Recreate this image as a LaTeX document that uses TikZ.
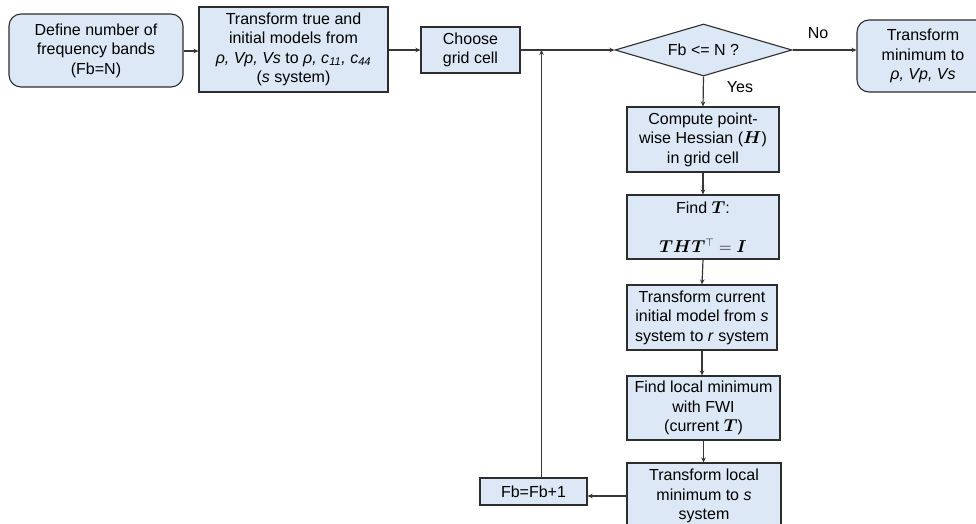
\documentclass[tikz,border=0pt]{standalone}
\usepackage{fontspec}
\setmainfont{Liberation Sans}
\usepackage{bm}
\usetikzlibrary{shapes.geometric,arrows.meta}
\definecolor{boxfill}{RGB}{220,232,245}
\definecolor{boxline}{RGB}{45,45,45}
\definecolor{wire}{RGB}{55,55,55}
\begin{document}
\begin{tikzpicture}[x=1pt,y=-1pt,
  every node/.style={font=\fontsize{16}{19.5}\selectfont, align=center, inner sep=0pt},
  box/.style={draw=boxline, fill=boxfill, line width=1.1pt},
  rbox/.style={box, rounded corners=12pt},
  conn/.style={draw=wire, line width=1.2pt, -{Stealth[length=5pt,width=4.5pt]}},
  lbl/.style={font=\fontsize{16}{19.5}\selectfont}]
\useasboundingbox (0,0) rectangle (976,524);
\clip (0,0) rectangle (976,524);
\node[rbox, minimum width=174pt, minimum height=73pt] (n1) at (96,50.5)
  {Define number of\\frequency bands\\(Fb=N)};
\node[box, minimum width=189pt, minimum height=85pt] (n2) at (293.5,49.5)
  {Transform true and\\initial models from\\\textit{ρ, Vp, Vs} to \textit{ρ, c\textsubscript{11}, c\textsubscript{44}}\\(\textit{s} system)};
\node[box, minimum width=99pt, minimum height=46pt] (n3) at (470.5,50)
  {Choose\\grid cell};
\node[box, shape=diamond, minimum width=177pt, minimum height=52pt, inner sep=0pt] (d) at (703.5,50)
  {};
\node (dt) at (703.5,50) {Fb <= N ?};
\node[rbox, minimum width=132pt, minimum height=72pt] (n4) at (923,56)
  {Transform\\minimum to\\\textit{ρ, Vp, Vs}};
\node[box, minimum width=152pt, minimum height=65pt] (c1) at (703,139.5)
  {Compute point-\\wise Hessian ($\bm{H}$)\\in grid cell};
\node[box, minimum width=152pt, minimum height=64pt] (c2) at (703,227)
  {Find $\bm{T}$:\\[19.5pt]$\bm{THT}^{\top}=\bm{I}$};
\node[box, minimum width=150pt, minimum height=65pt] (c3) at (702,317.5)
  {Transform current\\initial model from \textit{s}\\system to \textit{r} system};
\node[box, minimum width=153pt, minimum height=64pt] (c4) at (703.5,408)
  {Find local minimum\\with FWI\\(current $\bm{T}$)};
\node[box, minimum width=154pt, minimum height=66pt] (c5) at (704,496)
  {Transform local\\minimum to \textit{s}\\system};
\node[box, minimum width=107pt, minimum height=27pt] (fb) at (533.5,491.5)
  {Fb=Fb+1};
\coordinate (j) at (541.5,50);
\node[lbl] (no) at (818,33) {No};
\node[lbl] (yes) at (740,87) {Yes};
\draw[conn] (n1.east |- 0,51) -- (n2.west |- 0,51);
\draw[conn] (n2.east |- n3.west) -- (n3.west);
\draw[conn] (n3.east) -- (d.west);
\draw[conn] (d.east) -- (n4.west |- d.east);
\draw[conn] (d.south) -- (c1.north);
\draw[conn] (c1.south) -- (c2.north);
\draw[conn] (c2.south) -- (c3.north);
\draw[conn] (c3.south) -- (c3.south |- c4.north);
\draw[conn] (c4.south) -- (c4.south |- c5.north);
\draw[conn] (c5.west) -- (c5.west -| fb.east);
\draw[conn] (fb.north -| j) -- (j);
\end{tikzpicture}
\end{document}
